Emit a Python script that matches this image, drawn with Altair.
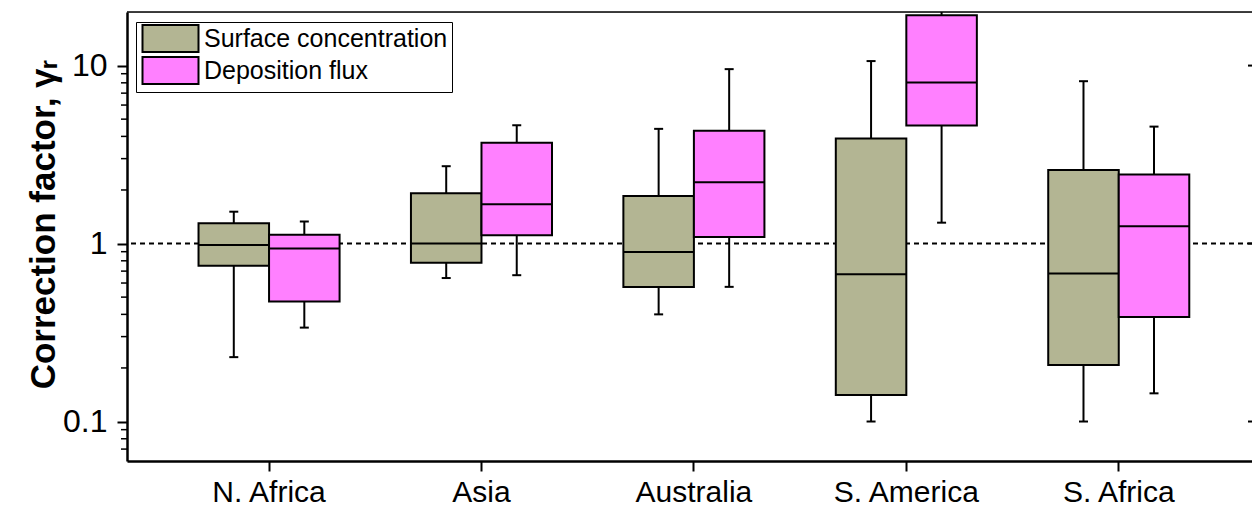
import altair as alt
import pandas as pd

regions = ["N. Africa", "Asia", "Australia", "S. America", "S. Africa"]
series = ["Surface concentration", "Deposition flux"]

# Surface concentration
sc_lo = [0.23, 0.64, 0.40, 0.10, 0.10]
sc_q1 = [0.75, 0.78, 0.57, 0.141, 0.208]
sc_med = [0.98, 1.00, 0.895, 0.673, 0.678]
sc_q3 = [1.30, 1.92, 1.85, 3.89, 2.59]
sc_hi = [1.51, 2.72, 4.41, 10.6, 8.17]

# Deposition flux
df_lo = [0.337, 0.664, 0.571, 1.31, 0.144]
df_q1 = [0.473, 1.115, 1.09, 4.6, 0.386]
df_med = [0.937, 1.665, 2.21, 8.03, 1.25]
df_q3 = [1.12, 3.68, 4.30, 19.2, 2.44]
df_hi = [1.33, 4.62, 9.55, 25.0, 4.54]

major_ticks = [0.1, 1, 10]
minor_ticks = [0.07, 0.08, 0.09, 0.2, 0.3, 0.4, 0.5, 0.6, 0.7, 0.8, 0.9,
               2, 3, 4, 5, 6, 7, 8, 9]

rows = []
for i, r in enumerate(regions):
    rows.append(dict(region=r, series=series[0], lo=sc_lo[i], q1=sc_q1[i],
                     med=sc_med[i], q3=sc_q3[i], hi=sc_hi[i]))
    rows.append(dict(region=r, series=series[1], lo=df_lo[i], q1=df_q1[i],
                     med=df_med[i], q3=df_q3[i], hi=df_hi[i]))
data = pd.DataFrame(rows)
minor_df = pd.DataFrame({"v": minor_ticks})
major_df = pd.DataFrame({"v": major_ticks})

W, H = 1125, 449
FONT = "Liberation Sans"
OLIVE = "#B3B593"
PINK = "#FF80FF"

xscale = alt.Scale(domain=regions, paddingInner=0, paddingOuter=0.148, align=0.57)
xoff_scale = alt.Scale(domain=series, paddingInner=0, paddingOuter=0.506)
yscale = alt.Scale(type="log", domain=[0.06, 20], nice=False)

x_enc = alt.X("region:N", scale=xscale, sort=regions,
              axis=alt.Axis(title=None, labelFontSize=30, labelFont=FONT, labelColor="black",
                            tickSize=10, tickWidth=2, tickColor="black",
                            domainWidth=2.5, domainColor="black", labelPadding=6,
                            labelAngle=0, grid=False))
xo_enc = alt.XOffset("series:N", scale=xoff_scale, sort=series)

y_axis = alt.Axis(values=major_ticks, format="~g", labelFontSize=32, labelFont=FONT,
                  labelColor="black", tickSize=10, tickWidth=2, tickColor="black",
                  domainWidth=2.5, domainColor="black", labelPadding=10, grid=False,
                  title="Correction factor, γᵣ", titleFont=FONT, titleFontSize=35,
                  titleFontWeight="bold", titleColor="black",
                  titleX=-84, titleY=212, titleBaseline="middle", titleAlign="center",
                  titleAngle=270)

base = alt.Chart(data)

ref = alt.Chart(major_df).transform_filter("datum.v == 1").mark_rule(
    color="black", strokeWidth=2, strokeDash=[5, 4]).encode(
    y=alt.Y("v:Q", scale=yscale, axis=y_axis))

whisk_hi = base.mark_rule(color="black", strokeWidth=2, clip=True).encode(
    x=x_enc, xOffset=xo_enc, y=alt.Y("q3:Q", scale=yscale), y2="hi:Q")
whisk_lo = base.mark_rule(color="black", strokeWidth=2, clip=True).encode(
    x=x_enc, xOffset=xo_enc, y=alt.Y("lo:Q", scale=yscale), y2="q1:Q")

boxes = base.mark_bar(stroke="black", strokeWidth=2, opacity=1).encode(
    x=x_enc, xOffset=xo_enc,
    y=alt.Y("q1:Q", scale=yscale), y2="q3:Q",
    color=alt.Color("series:N", scale=alt.Scale(domain=series, range=[OLIVE, PINK]),
                    legend=alt.Legend(title=None, orient="none", legendX=9, legendY=10,
                                      symbolType="M-1,-1.35H4.6V1.35H-1Z", symbolSize=400,
                                      symbolStrokeColor="black", symbolStrokeWidth=2,
                                      symbolOpacity=1,
                                      labelFontSize=25, labelFont=FONT, labelColor="black",
                                      labelOffset=39, labelLimit=500, rowPadding=-3,
                                      padding=4, strokeColor="black", fillColor="white")))

medians = base.mark_tick(color="black", thickness=2, size=70, opacity=1).encode(
    x=x_enc, xOffset=xo_enc, y=alt.Y("med:Q", scale=yscale))
cap_hi = base.mark_tick(color="black", thickness=2, size=9, opacity=1, clip=True).encode(
    x=x_enc, xOffset=xo_enc, y=alt.Y("hi:Q", scale=yscale))
cap_lo = base.mark_tick(color="black", thickness=2, size=9, opacity=1, clip=True).encode(
    x=x_enc, xOffset=xo_enc, y=alt.Y("lo:Q", scale=yscale))

minor = alt.Chart(minor_df).mark_rule(color="black", strokeWidth=1.5).encode(
    y=alt.Y("v:Q", scale=yscale), x=alt.value(-6), x2=alt.value(0))
right_ticks = alt.Chart(major_df).mark_rule(color="black", strokeWidth=2).encode(
    y=alt.Y("v:Q", scale=yscale), x=alt.value(W - 4), x2=alt.value(W))
top_line = alt.Chart(major_df).transform_filter("datum.v == 1").mark_rule(
    color="black", strokeWidth=1.5).encode(
    y=alt.value(0), x=alt.value(0), x2=alt.value(W))

chart = alt.layer(ref, whisk_hi, whisk_lo, boxes, medians, cap_hi, cap_lo,
                  minor, right_ticks, top_line).properties(
    width=W, height=H,
    autosize=alt.AutoSizeParams(type="none"),
    padding={"left": 127, "top": 12, "right": 0, "bottom": 47},
).configure_view(stroke=None).configure(background="white")

chart.save("out.html", embed_options={"renderer": "svg", "actions": False})
